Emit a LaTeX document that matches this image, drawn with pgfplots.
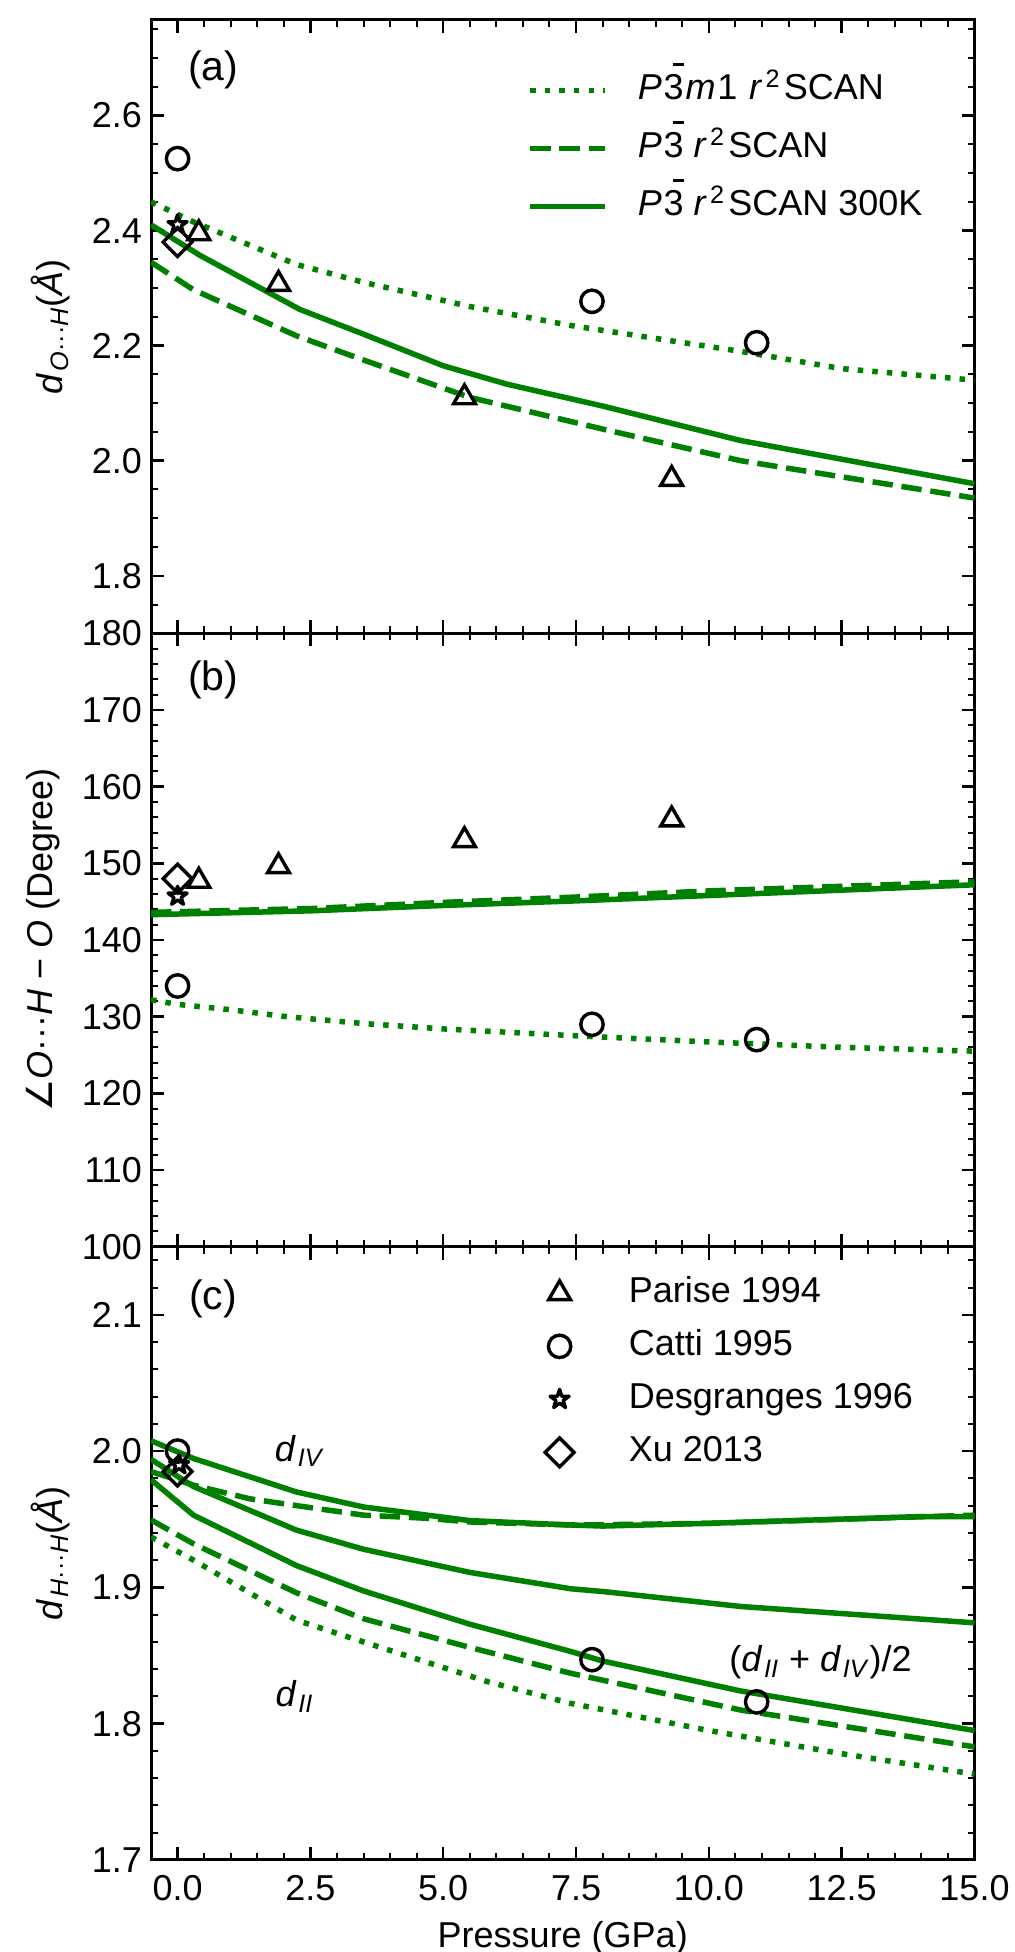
\documentclass[border=0pt]{standalone}
\usepackage{pgfplots}
\usepackage{fontspec}
\setmainfont{Liberation Sans}
\newfontfamily\symfont{DejaVu Sans}
\usetikzlibrary{plotmarks}
\pgfplotsset{compat=1.18}
\definecolor{mplgreen}{rgb}{0,0.5,0}

% five-pointed outlined star, like matplotlib's *
\pgfdeclareplotmark{ostar}{%
  \pgfpathmoveto{\pgfpointpolar{90}{\pgfplotmarksize}}%
  \pgfpathlineto{\pgfpointpolar{126}{0.382\pgfplotmarksize}}%
  \pgfpathlineto{\pgfpointpolar{162}{\pgfplotmarksize}}%
  \pgfpathlineto{\pgfpointpolar{198}{0.382\pgfplotmarksize}}%
  \pgfpathlineto{\pgfpointpolar{234}{\pgfplotmarksize}}%
  \pgfpathlineto{\pgfpointpolar{270}{0.382\pgfplotmarksize}}%
  \pgfpathlineto{\pgfpointpolar{306}{\pgfplotmarksize}}%
  \pgfpathlineto{\pgfpointpolar{342}{0.382\pgfplotmarksize}}%
  \pgfpathlineto{\pgfpointpolar{18}{\pgfplotmarksize}}%
  \pgfpathlineto{\pgfpointpolar{54}{0.382\pgfplotmarksize}}%
  \pgfpathclose\pgfusepathqstroke}

\newcommand{\lbl}{\fontsize{18}{21}\selectfont}
% P-3 with the short bar over the right half of the 3
\newcommand{\Pbar}{\textit{P}\kern0.05em\rlap{\hspace{0.27em}\rule[0.95em]{0.29em}{0.06em}}3}
\newcommand{\rsq}{\textit{r}\kern0.09em\textsuperscript{2}\kern0.09em SCAN}
\newcommand{\dsub}[1]{\textit{d}\kern0.05em\textsubscript{\textit{#1}}}

\pgfplotsset{
  panel/.style={
    scale only axis, width=411.75pt, height=306.67pt,
    xmin=-0.5, xmax=15,
    xtick distance=2.5, minor x tick num=4,
    tick align=inside, xtick pos=both, ytick pos=both,
    major tick length=6.5pt, minor tick length=3.5pt,
    major tick style={black,line width=1.25pt},
    minor tick style={black,line width=1pt},
    axis line style={black,line width=1.5pt},
    tick label style={font=\lbl},
    /pgf/number format/assume math mode=true,
    xticklabel style={anchor=base,yshift=-20pt,/pgf/number format/.cd,fixed,fixed zerofill,precision=1,assume math mode=true},
    yticklabel style={xshift=-1pt},
    legend cell align=left,
    legend image code/.code={\draw[##1] (0pt,0pt) -- (37.5pt,0pt);\path (52.5pt,0pt);},
    legend style={draw=none,fill=none,inner sep=0pt,font=\lbl,anchor=north west,
      nodes={inner sep=0pt,text height=13pt,text depth=4pt}},
    every axis x label/.style={at={(axis description cs:0.5,0)},anchor=base,yshift=-43.5pt,font=\lbl},
  },
  ylab/.style={every axis y label/.style={at={(axis description cs:#1,0.5)},rotate=90,anchor=base,font=\lbl}},
  solidg/.style={mplgreen,line width=2.75pt,solid},
  dashg/.style={mplgreen,line width=2.75pt,dash pattern=on 10.2pt off 4.4pt},
  dotg/.style={mplgreen,line width=2.75pt,dash pattern=on 2.75pt off 4.55pt},
  mk/.style={only marks,black,line width=1.7pt,mark options={solid,fill=none,line width=1.7pt,draw=black}},
  tri/.style={mk,mark=triangle,mark size=6.3pt},
  cir/.style={mk,mark=o,mark size=5.6pt},
  sta/.style={mk,mark=ostar,mark size=5pt,mark options={solid,fill=none,line width=1.7pt,draw=black,line join=round}},
  dia/.style={mk,mark=square,mark size=5.1pt,mark options={solid,fill=none,rotate=45,line width=1.7pt,draw=black}},
}

\begin{document}
\begin{tikzpicture}[x=1pt,y=1pt]
\useasboundingbox (0,0) rectangle (507.5,976);

%% panel (a)
\begin{axis}[panel, ylab=-0.107, at={(75.5pt,659.33pt)}, anchor=south west,
  ymin=1.7, ymax=2.766,
  ytick={1.8,2.0,2.2,2.4,2.6},
  minor ytick={1.75,1.85,1.9,1.95,2.05,2.1,2.15,2.25,2.3,2.35,2.45,2.5,2.55,2.65,2.7,2.75},
  xticklabels={},
  yticklabel style={/pgf/number format/.cd,fixed,fixed zerofill,precision=1,assume math mode=true},
  ylabel={\textit{d}\kern0.05em\textsubscript{\textit{O}···\textit{H}}(\textit{Å})},
  legend style={at={(188pt,280pt)},row sep=12pt},
]
\addplot[tri,forget plot] coordinates {(0.4,2.395) (1.9,2.307) (5.4,2.11) (9.3,1.968)};
\addplot[cir,forget plot] coordinates {(0,2.525) (7.8,2.277) (10.9,2.205)};
\addplot[sta,forget plot] coordinates {(0,2.41)};
\addplot[dia,forget plot] coordinates {(0,2.38)};
\addplot[dotg] coordinates {(-0.5,2.45) (0.3,2.415) (2.24,2.341) (3.5,2.31) (5.5,2.268) (7.4,2.235) (10.6,2.19) (12.5,2.16) (15,2.14)};
\addlegendentry{\Pbar\kern0.05em\textit{m}\kern0.05em 1\kern0.05em\ \rsq}
\addplot[dashg] coordinates {(-0.5,2.345) (0.3,2.297) (2.24,2.217) (3.5,2.175) (5.5,2.11) (8,2.055) (10.6,2.0) (15,1.935)};
\addlegendentry{\Pbar\ \rsq}
\addplot[solidg] coordinates {(-0.5,2.41) (0.42,2.357) (2.3,2.263) (3.5,2.22) (5,2.165) (6.2,2.133) (8,2.095) (10.6,2.035) (15,1.96)};
\addlegendentry{\Pbar\ \rsq\ 300K}
\node[font=\fontsize{20.5}{24}\selectfont] at (axis cs:0.67,2.68) {(a)};
\end{axis}

%% panel (b)
\begin{axis}[panel, ylab=-0.120, at={(75.5pt,352.67pt)}, anchor=south west,
  ymin=100, ymax=180,
  ytick distance=10, minor y tick num=4,
  xticklabels={},
  ylabel={{\symfont\itshape ∠}\textit{O}···\textit{H} − \textit{O} (Degree)},
]
\addplot[tri] coordinates {(0.4,147.7) (1.9,149.6) (5.4,153) (9.3,155.7)};
\addplot[cir] coordinates {(0,134) (7.8,129) (10.9,127)};
\addplot[sta] coordinates {(0,145.7)};
\addplot[dia] coordinates {(0,148)};
\addplot[dotg] coordinates {(-0.5,132.2) (0,131.6) (1,130.9) (2.05,130) (3.5,129.1) (5,128.4) (7.5,127.5) (10,126.7) (12.5,126) (15,125.5)};
\addplot[dashg] coordinates {(-0.5,143.6) (2.5,144.1) (5,144.9) (7.5,145.6) (10,146.4) (12.5,147) (15,147.6)};
\addplot[solidg] coordinates {(-0.5,143.3) (2.5,143.8) (5,144.5) (7.5,145.1) (10,145.8) (12.5,146.5) (15,147.2)};
\node[font=\fontsize{20.5}{24}\selectfont] at (axis cs:0.67,173.9) {(b)};
\end{axis}

%% panel (c)
\begin{axis}[panel, ylab=-0.107, at={(75.5pt,46pt)}, anchor=south west,
  ymin=1.7, ymax=2.15,
  ytick={1.7,1.8,1.9,2.0,2.1},
  minor ytick={1.72,1.74,1.76,1.78,1.82,1.84,1.86,1.88,1.92,1.94,1.96,1.98,2.02,2.04,2.06,2.08,2.12,2.14},
  yticklabel style={/pgf/number format/.cd,fixed,fixed zerofill,precision=1,assume math mode=true},
  xlabel={Pressure (GPa)},
  ylabel={\textit{d}\kern0.05em\textsubscript{\textit{H}···\textit{H}}(\textit{Å})},
  legend image code/.code={\draw[mark repeat=2,mark phase=2,#1] plot coordinates {(0pt,0pt) (18.75pt,0pt) (37.5pt,0pt)};\path (0pt,0pt) (52.5pt,0pt);},
  legend style={at={(184.5pt,292pt)},row sep=9.5pt},
]
\addlegendimage{tri}
\addlegendentry{Parise 1994}
\addplot[cir] coordinates {(0,2.0) (7.8,1.847) (10.9,1.816)};
\addlegendentry{Catti 1995}
\addplot[sta] coordinates {(0.03,1.99)};
\addlegendentry{Desgranges 1996}
\addplot[dia] coordinates {(0,1.985)};
\addlegendentry{Xu 2013}
\addplot[solidg,forget plot] coordinates {(-0.5,2.0076) (0.3,1.9946) (2.24,1.970) (3.5,1.959) (5.5,1.949) (7.4,1.9458) (8,1.945) (10,1.947) (14,1.952) (15,1.952)};
\addplot[solidg,forget plot] coordinates {(-0.5,1.994) (0.3,1.974) (2.24,1.942) (3.5,1.928) (5.5,1.911) (7.4,1.899) (8,1.897) (10.6,1.886) (15,1.874)};
\addplot[solidg,forget plot] coordinates {(-0.5,1.979) (0.3,1.953) (2.24,1.916) (3.5,1.8974) (5.5,1.873) (7.4,1.853) (8,1.846) (10.6,1.824) (15,1.795)};
\addplot[dashg,forget plot] coordinates {(-0.5,1.985) (0.3,1.975) (1.36,1.965) (2.24,1.96) (3.5,1.953) (4.7,1.9507) (5.5,1.948) (7.4,1.9458) (8,1.946) (10,1.947) (15,1.953)};
\addplot[dashg,forget plot] coordinates {(-0.5,1.9495) (0.3,1.932) (2.24,1.896) (3.5,1.877) (5.5,1.856) (7.4,1.837) (10.6,1.81) (15,1.783)};
\addplot[dotg,forget plot] coordinates {(-0.5,1.937) (0.3,1.92) (2.24,1.876) (3.18,1.864) (4.75,1.8444) (5.82,1.831) (7.39,1.815) (10,1.795) (12.5,1.778) (15,1.763)};
\node[font=\fontsize{20.5}{24}\selectfont] at (axis cs:0.67,2.112) {(c)};
\node[font=\lbl] at (axis cs:2.3,2.0) {\dsub{IV}};
\node[font=\lbl] at (axis cs:2.2,1.82) {\dsub{II}};
\node[font=\lbl] at (axis cs:12.1,1.845) {(\dsub{II} + \dsub{IV})/2};
\end{axis}
\end{tikzpicture}
\end{document}
